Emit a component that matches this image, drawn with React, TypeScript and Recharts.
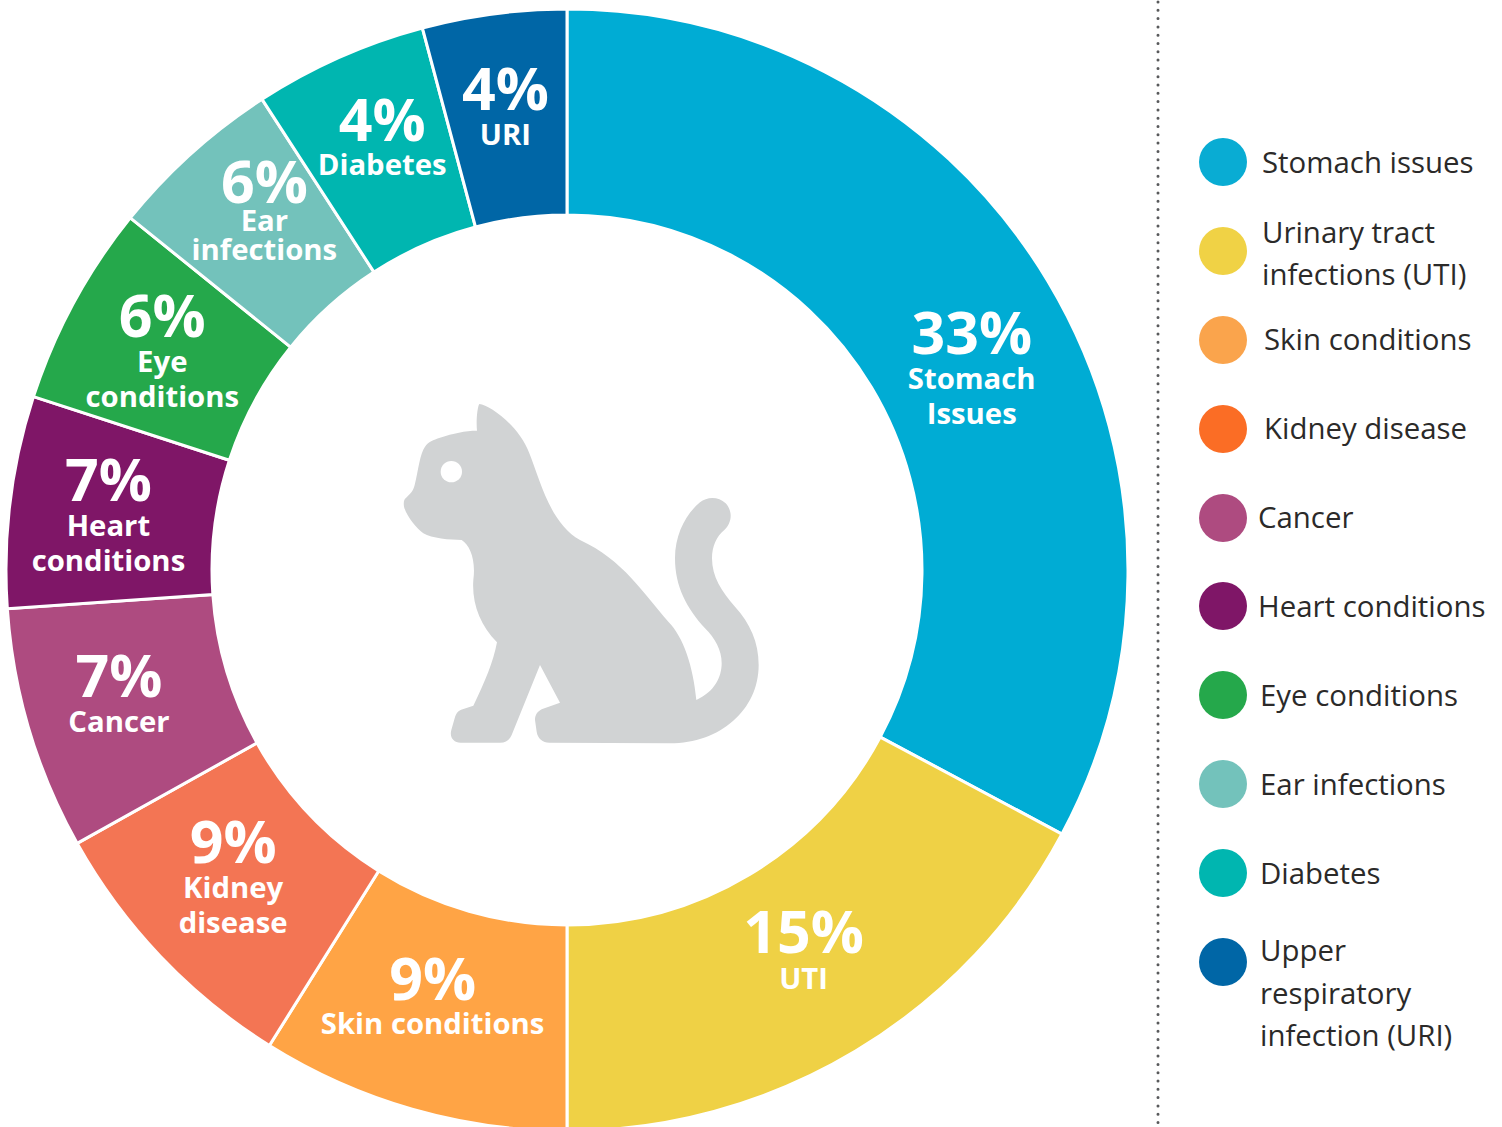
import { PieChart, Pie, Cell, Legend } from "recharts";

const categories = [
  "Stomach issues",
  "Urinary tract infections (UTI)",
  "Skin conditions",
  "Kidney disease",
  "Cancer",
  "Heart conditions",
  "Eye conditions",
  "Ear infections",
  "Diabetes",
  "Upper respiratory infection (URI)",
];

// share of the ring as drawn in the picture (the printed % differ a bit)
const drawnShares = [32.8, 17.2, 8.9, 8.0, 7.0, 6.1, 5.8, 5.05, 5.0, 4.15];
const printedPercents = ["33%", "15%", "9%", "9%", "7%", "7%", "6%", "6%", "4%", "4%"];
const sliceLabels = [
  ["Stomach", "Issues"],
  ["UTI"],
  ["Skin conditions"],
  ["Kidney", "disease"],
  ["Cancer"],
  ["Heart", "conditions"],
  ["Eye", "conditions"],
  ["Ear", "infections"],
  ["Diabetes"],
  ["URI"],
];
const sliceColors = [
  "#00acd4", "#efd145", "#ffa445", "#f37554", "#ae4b80",
  "#7f1667", "#25a84b", "#73c2bb", "#00b6b0", "#0066a6",
];
const legendColors = [
  "#09acd3", "#f0d245", "#faa44c", "#fb6d25", "#ae4b80",
  "#7f1667", "#25a84b", "#73c2bb", "#00b6b0", "#0066a6",
];
const legendLines = [
  ["Stomach issues"],
  ["Urinary tract", "infections (UTI)"],
  ["Skin conditions"],
  ["Kidney disease"],
  ["Cancer"],
  ["Heart conditions"],
  ["Eye conditions"],
  ["Ear infections"],
  ["Diabetes"],
  ["Upper", "respiratory", "infection (URI)"],
];

const chartData = categories.map((name, i) => ({ name, value: drawnShares[i] }));

// label placement, relative to the middle of each ring segment
const labelNudges = [
  [12, 20], [1, -10], [-8, -10], [-2, -23], [-9, -4],
  [-4, -13], [-2, -15], [4, -27], [1, -10], [-2, -6],
];
const firstLineGaps = [35, 36, 34, 35, 35, 35, 35, 28, 34, 35];
const nextLineGaps = [35, 35, 35, 35, 35, 35, 35, 29, 35, 35];
const legendRows = [162, 251, 340, 429, 518, 606, 695, 784, 873, 962];
const legendTextX = [1262, 1262, 1264, 1264, 1258, 1258, 1260, 1260, 1260, 1260];
const legendTextNudges = [0, 2, -1, -1, -1, 0, 0, 0, 0, -1];

const FONT = "'Open Sans', 'Noto Sans', sans-serif";
const RADIAN = Math.PI / 180;

function SliceLabel(props: any) {
  const { cx, cy, midAngle, innerRadius, outerRadius, index } = props;
  const r = (innerRadius + outerRadius) / 2;
  const x = cx + r * Math.cos(-midAngle * RADIAN) + labelNudges[index][0];
  const y = cy + r * Math.sin(-midAngle * RADIAN) + labelNudges[index][1];
  return (
    <g fill="#fff" textAnchor="middle" fontFamily={FONT} fontWeight={700}>
      <text x={x} y={y} fontSize={59}>
        {printedPercents[index]}
      </text>
      {sliceLabels[index].map((line, i) => (
        <text key={line} x={x} y={y + firstLineGaps[index] + i * nextLineGaps[index]} fontSize={29.3}>
          {line}
        </text>
      ))}
    </g>
  );
}

function LegendBlock() {
  return (
    <div style={{ position: "relative", width: 1502, height: 1127 }}>
      {categories.map((name, i) => {
        const lines = legendLines[i];
        return (
          <div key={name}>
            <div
              style={{
                position: "absolute",
                left: 1199,
                top: legendRows[i] - 24,
                width: 48,
                height: 48,
                borderRadius: "50%",
                background: legendColors[i],
              }}
            />
            <div
              style={{
                position: "absolute",
                left: legendTextX[i],
                top: legendRows[i] - (lines.length * 42.5) / 2 + (i === 9 ? 32 : 0) + legendTextNudges[i],
                fontFamily: FONT,
                fontSize: 29.4,
                lineHeight: "42.5px",
                color: "#2b2a29",
                whiteSpace: "nowrap",
                textAlign: "left",
              }}
            >
              {lines.map((line) => (
                <div key={line}>{line}</div>
              ))}
            </div>
          </div>
        );
      })}
    </div>
  );
}

function CatIcon() {
  return (
    <svg
      width={390}
      height={370}
      viewBox="0 0 1170 1110"
      style={{ position: "absolute", left: 390, top: 390 }}
    >
      <path
        fill="#d1d3d4"
        d="M268 42 C300 45 390 110 418 190 C450 270 480 400 570 450 C700 510 760 610 835 695 C880 740 910 830 919 930 C975 905 995 860 995 820 C995 780 975 745 945 715 C890 655 855 590 855 505 C855 430 890 370 930 337 C950 320 985 318 1007 340 C1030 365 1025 400 1003 420 C980 438 966 470 966 505 C966 560 995 605 1035 650 C1080 700 1106 755 1106 825 C1106 960 990 1060 840 1060 L478 1058 C458 1058 443 1045 440 1025 L435 990 C435 975 442 965 455 958 L510 938 L450 825 L365 1035 C358 1050 348 1058 330 1058 L212 1058 C190 1058 178 1040 184 1020 L194 985 C198 970 205 962 218 958 L250 947 C285 875 310 815 321 757 C270 705 245 640 250 570 C258 510 240 465 215 450 C180 450 125 445 100 430 C80 415 50 380 42 350 C40 335 42 328 50 322 C60 312 70 303 74 285 C85 240 90 190 105 170 C115 155 130 150 150 143 C190 130 225 122 261 122 C258 95 262 50 268 42 Z"
      />
      <circle cx={184} cy={245} r={32} fill="#fff" />
    </svg>
  );
}

export default function App() {
  return (
    <div style={{ position: "absolute", left: 0, top: 0, width: 1502, height: 1127, overflow: "hidden", background: "#fff" }}>
      <PieChart width={1502} height={1127} margin={{ top: 0, right: 0, bottom: 0, left: 0 }}>
        <Pie
          data={chartData}
          dataKey="value"
          nameKey="name"
          cx={567}
          cy={570}
          innerRadius={355}
          outerRadius={561}
          startAngle={90}
          endAngle={-270}
          stroke="#fff"
          strokeWidth={3}
          label={SliceLabel}
          labelLine={false}
          isAnimationActive={false}
        >
          {chartData.map((d, i) => (
            <Cell key={d.name} fill={sliceColors[i]} />
          ))}
        </Pie>
        <Legend
          content={LegendBlock}
          wrapperStyle={{ position: "absolute", left: 0, top: 0, width: 1502, height: 1127 }}
        />
      </PieChart>
      <CatIcon />
      <svg width={10} height={1127} style={{ position: "absolute", left: 1153, top: 0 }}>
        <line x1={5} y1={2} x2={5} y2={1127} stroke="#58595b" strokeWidth={3} strokeLinecap="round" strokeDasharray="0 8.3" />
      </svg>
    </div>
  );
}
